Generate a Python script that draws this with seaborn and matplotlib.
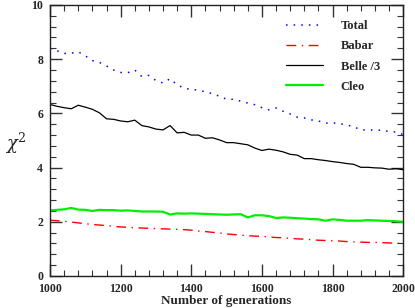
import matplotlib
matplotlib.use("Agg")
import matplotlib.pyplot as plt
from matplotlib.ticker import MultipleLocator
import seaborn as sns
import pandas as pd

generations = list(range(1000, 2001, 20))

total = [8.40, 8.31, 8.21, 8.22, 8.27, 8.12, 7.95, 7.88, 7.75, 7.60,
         7.51, 7.50, 7.60, 7.36, 7.40, 7.21, 7.12, 7.28, 7.05, 6.93,
         6.88, 6.86, 6.79, 6.73, 6.63, 6.52, 6.52, 6.45, 6.38, 6.32,
         6.21, 6.13, 6.20, 6.08, 5.98, 5.86, 5.83, 5.76, 5.72, 5.64,
         5.65, 5.62, 5.57, 5.51, 5.39, 5.39, 5.38, 5.38, 5.33, 5.31, 5.22]

babar = [2.06, 2.04, 2.02, 1.99, 1.96, 1.93, 1.90, 1.88, 1.86, 1.83,
         1.81, 1.80, 1.78, 1.77, 1.76, 1.75, 1.74, 1.73, 1.72, 1.71,
         1.69, 1.66, 1.64, 1.61, 1.59, 1.55, 1.53, 1.51, 1.49, 1.47,
         1.46, 1.44, 1.42, 1.41, 1.39, 1.37, 1.36, 1.34, 1.32, 1.31,
         1.30, 1.29, 1.27, 1.26, 1.25, 1.24, 1.24, 1.23, 1.22, 1.21, 1.20]

belle_3 = [6.33, 6.26, 6.21, 6.17, 6.30, 6.23, 6.15, 6.02, 5.80, 5.78,
           5.72, 5.69, 5.75, 5.55, 5.50, 5.42, 5.39, 5.55, 5.28, 5.30,
           5.20, 5.20, 5.08, 5.10, 5.02, 4.92, 4.92, 4.88, 4.84, 4.72,
           4.63, 4.68, 4.64, 4.58, 4.49, 4.46, 4.33, 4.33, 4.29, 4.26,
           4.22, 4.19, 4.15, 4.12, 4.01, 4.01, 3.99, 3.98, 3.94, 3.96, 3.92]

cleo = [2.42, 2.44, 2.46, 2.51, 2.45, 2.44, 2.40, 2.44, 2.43, 2.43,
        2.41, 2.42, 2.40, 2.38, 2.38, 2.38, 2.37, 2.27, 2.31, 2.30,
        2.31, 2.30, 2.29, 2.28, 2.27, 2.26, 2.27, 2.28, 2.16, 2.24,
        2.24, 2.21, 2.14, 2.16, 2.15, 2.13, 2.12, 2.10, 2.09, 2.04,
        2.09, 2.07, 2.04, 2.04, 2.04, 2.06, 2.05, 2.04, 2.03, 2.02, 2.00]

labels = ["Total", "Babar", "Belle /3", "Cleo"]
series = [total, babar, belle_3, cleo]
colors = ["#0000ff", "#ff0000", "#000000", "#00ee00"]
styles = [(0, (1, 4)), (0, (7, 4, 1, 4)), "-", "-"]
widths = [1.1, 1.0, 0.9, 1.6]

sns.set_theme(style="ticks")
plt.rcParams["font.family"] = ["Liberation Serif", "DejaVu Serif"]
plt.rcParams["mathtext.fontset"] = "dejavuserif"

fig = plt.figure(figsize=(4.15, 3.08), dpi=100)
ax = fig.add_axes([0.1205, 0.1039, 0.851, 0.880])

for lab, vals, col, ls, lw in zip(labels, series, colors, styles, widths):
    df = pd.DataFrame({"gen": generations, "chi2": vals})
    sns.lineplot(data=df, x="gen", y="chi2", ax=ax, color=col, linestyle=ls,
                 linewidth=lw, label=lab)

ax.set_xlim(1000, 2000)
ax.set_ylim(0, 10)
ax.xaxis.set_major_locator(MultipleLocator(200))
ax.xaxis.set_minor_locator(MultipleLocator(40))
ax.yaxis.set_major_locator(MultipleLocator(2))
ax.yaxis.set_minor_locator(MultipleLocator(0.4))
ax.tick_params(which="both", direction="in", top=True, right=True, color="#333333")
ax.tick_params(which="major", length=8.5, width=1.0, labelsize=8.5)
ax.tick_params(axis="x", which="major", pad=5)
ax.tick_params(axis="y", which="major", pad=5)
ax.tick_params(which="minor", length=4, width=0.8)
for lbl in ax.get_xticklabels() + ax.get_yticklabels():
    lbl.set_fontweight("bold")
for sp in ax.spines.values():
    sp.set_linewidth(1.0)
    sp.set_color("#222222")

ax.set_xlabel("Number of generations", fontsize=9.5, fontweight="bold", labelpad=0)
ax.set_ylabel(r"$\chi^2$", fontsize=13, rotation=0, va="center", ha="center")
ax.yaxis.set_label_coords(-0.097, 0.49)

leg = ax.legend(loc="upper left", bbox_to_anchor=(0.635, 0.985), frameon=False,
                fontsize=9, handlelength=3.0, handletextpad=1.4, labelspacing=0.65)
for t in leg.get_texts():
    t.set_fontweight("bold")

fig.savefig("out.png", dpi=100)
